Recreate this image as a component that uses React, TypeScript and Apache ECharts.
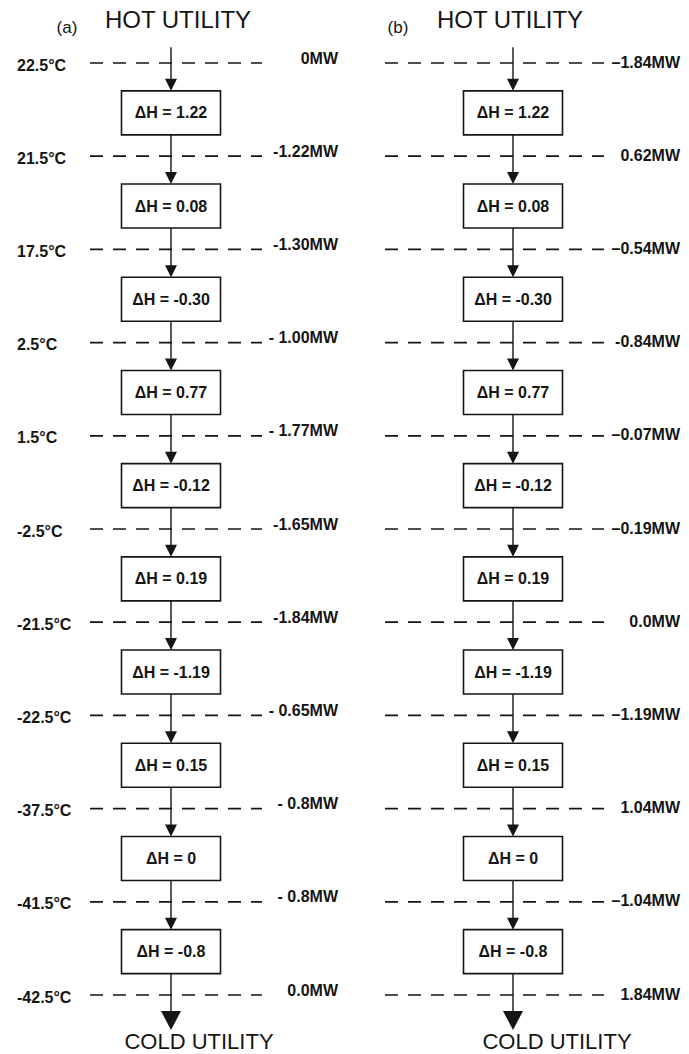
import React, { useEffect, useRef } from "react";
import * as echarts from "echarts";

// ---- data ----
const panels = ["(a)", "(b)"];
const temperatures = ["22.5°C", "21.5°C", "17.5°C", "2.5°C", "1.5°C", "-2.5°C", "-21.5°C", "-22.5°C", "-37.5°C", "-41.5°C", "-42.5°C"];
const cascadeA = ["0MW", "-1.22MW", "-1.30MW", "- 1.00MW", "- 1.77MW", "-1.65MW", "-1.84MW", "- 0.65MW", "- 0.8MW", "- 0.8MW", "0.0MW"];
const cascadeB = ["–1.84MW", "0.62MW", "–0.54MW", "-0.84MW", "–0.07MW", "–0.19MW", "0.0MW", "–1.19MW", "1.04MW", "–1.04MW", "1.84MW"];
const deltaH = ["1.22", "0.08", "-0.30", "0.77", "-0.12", "0.19", "-1.19", "0.15", "0", "-0.8"];
const hotLabel = "HOT UTILITY";
const coldLabel = "COLD UTILITY";

const cascades = [cascadeA, cascadeB];

const INK = "#151515";
const FAM = '"Liberation Sans", Arial, Helvetica, sans-serif';
const SMALL = `bold 16px ${FAM}`;
const BOX_W = 99;
const BOX_H = 44;

function boxCenter(api: any, p: number, j: number) {
  const a = api.coord([p, j]);
  const b = api.coord([p, j + 1]);
  return [a[0], a[1] + 0.535 * (b[1] - a[1])];
}

export default function App() {
  const ref = useRef<HTMLDivElement>(null);

  useEffect(() => {
    if (!ref.current) return;
    const chart = echarts.init(ref.current, undefined, { renderer: "svg" });

    const levelData = panels.flatMap((_, p) => temperatures.map((_, i) => [p, i]));
    const boxData = panels.flatMap((_, p) => deltaH.map((_, j) => [p, j]));
    const panelData = panels.map((_, p) => [p, 0]);

    const option: any = {
      animation: false,
      backgroundColor: "#ffffff",
      grid: { left: 0, right: 5, top: 63, bottom: 59 },
      xAxis: { type: "category", data: panels, show: false, boundaryGap: true },
      yAxis: { type: "value", inverse: true, min: 0, max: temperatures.length - 1, show: false },
      series: [
        {
          type: "custom",
          name: "levels",
          clip: false,
          data: levelData,
          renderItem: (_: any, api: any) => {
            const p = api.value(0);
            const i = api.value(1);
            const [cx, cy] = api.coord([p, i]);
            const left = p === 0 ? cx - 81 : cx - 128;
            const right = cx + 91;
            const children: any[] = [
              {
                type: "line",
                shape: { x1: left, y1: cy, x2: right, y2: cy },
                style: { stroke: INK, lineWidth: 1.7, lineDash: [13, 10] },
              },
              {
                type: "text",
                x: cx + 167,
                y: cy + (p === 0 ? -5 : -1),
                style: { text: cascades[p][i], fill: INK, font: SMALL, align: "right", verticalAlign: "middle" },
              },
            ];
            if (p === 0) {
              children.push({
                type: "text",
                x: cx - 154,
                y: cy + 2,
                style: { text: temperatures[i], fill: INK, font: SMALL, align: "left", verticalAlign: "middle" },
              });
            }
            return { type: "group", children };
          },
        },
        {
          type: "custom",
          name: "intervals",
          clip: false,
          data: boxData,
          renderItem: (_: any, api: any) => {
            const p = api.value(0);
            const j = api.value(1);
            const [cx, cy] = boxCenter(api, p, j);
            const top = cy - BOX_H / 2;
            const start = j === 0 ? api.coord([p, -0.17])[1] : boxCenter(api, p, j - 1)[1] + BOX_H / 2;
            return {
              type: "group",
              children: [
                { type: "line", shape: { x1: cx, y1: start, x2: cx, y2: top - 10 }, style: { stroke: INK, lineWidth: 1.4 } },
                { type: "polygon", shape: { points: [[cx - 6, top - 12], [cx + 6, top - 12], [cx, top]] }, style: { fill: INK } },
                { type: "rect", shape: { x: cx - BOX_W / 2, y: top, width: BOX_W, height: BOX_H }, style: { fill: "#ffffff", stroke: INK, lineWidth: 1.6 } },
                {
                  type: "text",
                  x: cx,
                  y: cy,
                  style: { text: "ΔH = " + deltaH[j], fill: INK, font: SMALL, align: "center", verticalAlign: "middle" },
                },
              ],
            };
          },
        },
        {
          type: "custom",
          name: "utilities",
          clip: false,
          data: panelData,
          renderItem: (_: any, api: any) => {
            const p = api.value(0);
            const [cx, y0] = api.coord([p, 0]);
            const last = boxCenter(api, p, deltaH.length - 1);
            const tip = api.coord([p, temperatures.length - 1])[1] + 35;
            return {
              type: "group",
              children: [
                {
                  type: "text",
                  x: cx + (p === 0 ? -104 : -115),
                  y: y0 - 36,
                  style: { text: panels[p], fill: INK, font: `17px ${FAM}`, align: "center", verticalAlign: "middle" },
                },
                {
                  type: "text",
                  x: cx + (p === 0 ? 7 : -3),
                  y: y0 - 44,
                  style: { text: hotLabel, fill: INK, font: `24px ${FAM}`, align: "center", verticalAlign: "middle" },
                },
                { type: "line", shape: { x1: cx, y1: last[1] + BOX_H / 2, x2: cx, y2: tip - 17 }, style: { stroke: INK, lineWidth: 1.4 } },
                { type: "polygon", shape: { points: [[cx - 10, tip - 19], [cx + 10, tip - 19], [cx, tip]] }, style: { fill: INK } },
                {
                  type: "text",
                  x: cx + (p === 0 ? 28 : 44),
                  y: tip + 11,
                  style: { text: coldLabel, fill: INK, font: `22px ${FAM}`, align: "center", verticalAlign: "middle" },
                },
              ],
            };
          },
        },
      ],
    };

    chart.setOption(option);
    return () => chart.dispose();
  }, []);

  return <div ref={ref} style={{ position: "absolute", left: 0, top: 0, width: 689, height: 1054 }} />;
}
